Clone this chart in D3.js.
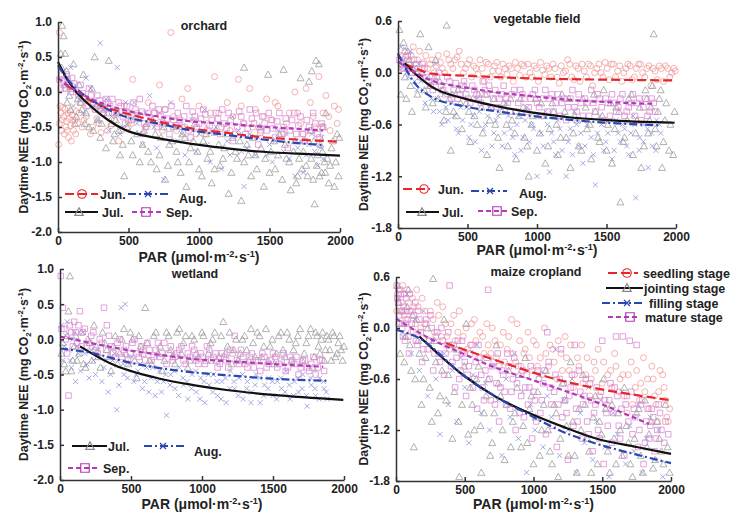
<!DOCTYPE html>
<html lang="en">
<head>
<meta charset="UTF-8">
<script src="https://d3js.org/d3.v7.min.js"></script>
<title>Daytime NEE vs PAR</title>
<style>
  body { margin: 0; background: #fff; }
  text { font-family: "Liberation Sans", Arial, sans-serif; font-weight: bold; fill: #222; }
  .axis text { font-size: 12px; fill: #222; }
  .axis path, .axis line { stroke: #333; stroke-width: 1.5; }
</style>
</head>
<body>
<svg width="731" height="512"></svg>
<script>
const parTicks = [0, 500, 1000, 1500, 2000];
const neeTicksA = [1.0, 0.5, 0.0, -0.5, -1.0, -1.5, -2.0];
const neeTicksB = [0.6, 0.0, -0.6, -1.2, -1.8];
const panelNames = ["orchard", "vegetable field", "wetland", "maize cropland"];
const monthNames = ["Jun.", "Jul.", "Aug.", "Sep."];
const stageNames = ["seedling stage", "jointing stage", "filling stage", "mature stage"];

// observed points, [PAR, NEE]
const orchardJun = [[5,-0.75],[10,-0.45],[15,-0.2],[20,-0.3],[25,-0.55],[30,-0.4],[40,-0.35],[45,-0.6],[50,-0.25],[55,-0.5],[60,-0.42],[70,-0.3],[75,-0.65],[80,-0.38],[90,-0.48],[100,-0.33],[110,-0.55],[120,-0.4],[130,-0.28],[140,-0.45],[10,0.85],[170,-0.5],[200,-0.35],[230,-0.6],[260,-0.25],[290,-0.45],[320,-0.3],[350,-0.55],[400,-0.4],[430,-0.7],[470,-0.2],[500,-0.5],[530,0.18],[560,-0.3],[600,-0.6],[640,-0.15],[700,-0.45],[720,0.1],[760,-0.25],[800,0.85],[840,-0.55],[880,-0.1],[920,0.05],[960,-0.4],[1000,-0.2],[1040,-0.6],[1080,-0.3],[1110,0.22],[1160,-0.5],[1200,-0.15],[1240,-0.35],[1280,0.18],[1320,-0.45],[1360,0.05],[1400,-0.25],[1440,-0.55],[1480,-0.1],[1520,-0.4],[1560,-0.2],[1600,-0.6],[1640,-0.3],[1680,0.0],[1720,-0.45],[1760,0.05],[1790,-0.15],[1820,-0.5],[1850,0.22],[1880,-0.3],[1900,-0.05],[1930,-0.55],[1960,-0.2],[1990,-0.25],
  [35,-0.22],[65,-0.55],[85,-0.28],[95,-0.7],[105,-0.4],[125,-0.6],[150,-0.3],[160,-0.15],[185,-0.4],[215,-0.2],[245,-0.5],[275,-0.38],[305,-0.58],[335,-0.25],[375,-0.48],[415,-0.32],[450,-0.55],[485,-0.28],[520,-0.45],[580,-0.35],[620,-0.5],[680,-0.3],[740,-0.55],[820,-0.35],[900,-0.5],[980,-0.6],[1060,-0.45],[1140,-0.3],[1220,-0.55],[1300,-0.2],[1380,-0.5],[1460,-0.35],[1540,-0.15],[1620,-0.45],[1700,-0.3],[1740,-0.6],[1810,-0.35],[1870,-0.5],[1920,-0.35],[1980,-0.45]];
const orchardJul = [[20,0.55],[30,0.95],[40,0.8],[50,0.55],[60,0.3],[70,0.15],[80,-0.05],[90,-0.25],[110,0.4],[130,-0.35],[150,0.1],[160,-0.15],[180,0.25],[200,-0.3],[220,-0.5],[240,0.05],[260,0.5],[280,-0.4],[300,-0.65],[320,-0.2],[340,-0.8],[360,0.45],[380,-0.45],[400,-0.6],[420,-0.3],[440,-0.9],[470,-1.2],[490,-0.5],[520,-0.7],[550,-0.35],[580,-1.0],[610,-0.55],[640,-0.85],[670,-0.4],[700,-1.1],[730,-0.65],[760,-1.25],[790,-0.75],[820,-0.5],[850,-1.0],[880,-0.6],[910,-1.35],[940,-0.8],[970,-0.45],[1000,-1.1],[1030,-0.7],[1060,-0.95],[1090,-1.3],[1120,-0.55],[1150,-1.05],[1180,-0.8],[1210,-1.45],[1240,-0.65],[1270,-0.95],[1300,-1.55],[1320,0.35],[1340,-0.75],[1370,-1.2],[1400,-0.9],[1430,-0.5],[1460,-1.35],[1490,0.25],[1510,-0.85],[1540,-1.1],[1570,-0.6],[1600,0.32],[1620,-0.95],[1650,-1.4],[1680,-0.7],[1700,-1.2],[1720,0.2],[1740,-0.85],[1760,-1.05],[1780,0.15],[1790,-0.55],[1800,0.3],[1810,-1.25],[1820,-1.6],[1830,0.45],[1840,-0.9],[1850,0.4],[1860,-0.75],[1870,-1.15],[1880,-0.5],[1890,-1.0],[1900,-0.3],[1920,-1.3],[1940,-0.8],[1960,-1.35],[1980,-0.6],[1995,-0.65],
  [25,0.35],[45,0.1],[65,-0.15],[100,0.05],[120,-0.45],[140,-0.1],[170,-0.25],[190,-0.45],[210,-0.1],[250,-0.55],[270,-0.2],[310,-0.45],[350,-0.3],[390,-0.7],[410,-0.4],[430,-0.55],[460,-0.75],[500,-0.4],[530,-0.9],[560,-0.6],[600,-0.75],[630,-0.45],[660,-1.0],[690,-0.6],[720,-0.9],[750,-0.5],[780,-1.05],[810,-0.7],[840,-0.85],[870,-1.15],[900,-0.65],[930,-1.0],[960,-0.7],[990,-0.85],[1020,-1.2],[1050,-0.6],[1080,-0.85],[1110,-1.1],[1140,-0.75],[1170,-0.95],[1200,-0.6],[1230,-1.15],[1260,-0.85],[1290,-0.7],[1320,-1.0],[1350,-0.9],[1380,-0.65],[1410,-1.1],[1440,-0.8],[1470,-0.95],[1500,-1.15],[1530,-0.7],[1560,-0.9],[1590,-1.25],[1610,-0.75],[1640,-1.0],[1670,-0.85],[1690,-1.3],[1710,-0.95],[1730,-1.1],[1750,-0.7],[1770,-1.2],[1795,-0.95],[1815,-0.7],[1835,-1.05],[1855,-1.2],[1875,-0.85],[1895,-1.15],[1910,-0.95],[1930,-1.05],[1950,-0.7],[1970,-1.0],[1990,-1.2]];
const orchardAug = [[40,0.3],[60,0.2],[90,0.35],[120,0.1],[150,-0.1],[200,0.2],[250,-0.2],[300,0.7],[340,-0.1],[380,-0.35],[420,0.35],[460,-0.5],[500,-0.3],[540,-0.15],[580,-0.6],[620,-0.3],[650,-0.05],[700,-0.8],[750,-1.25],[780,-0.45],[800,-0.15],[850,-0.7],[900,-0.9],[950,-0.4],[1000,-0.6],[1040,-0.25],[1080,-1.0],[1120,-0.5],[1160,-1.1],[1200,-0.7],[1240,-0.35],[1300,-0.85],[1320,-1.35],[1360,-0.6],[1400,-0.9],[1450,-0.5],[1500,-0.75],[1520,-1.0],[1560,-0.55],[1600,-0.85],[1640,-0.95],[1680,-1.2],[1720,-0.7],[1760,-0.9],[1800,-0.6],[1840,-1.05],[1860,-0.8],[1880,-0.95],
  [70,0.05],[110,-0.2],[180,-0.3],[230,0.05],[280,-0.4],[320,-0.25],[360,-0.55],[440,-0.6],[480,-0.15],[560,-0.45],[600,-0.75],[680,-0.5],[720,-0.3],[830,-0.5],[880,-0.6],[980,-0.85],[1060,-0.75],[1140,-0.45],[1220,-0.9],[1280,-0.55],[1340,-0.8],[1420,-0.65],[1480,-0.9],[1540,-0.7],[1620,-0.6],[1700,-0.8],[1740,-1.15],[1780,-0.75],[1820,-0.85],[1870,-0.65]];
const orchardSep = [[10,0.18],[20,0.05],[40,0.15],[60,0.25],[80,0.1],[100,0.2],[130,0.0],[160,0.1],[190,-0.1],[220,0.05],[250,-0.15],[280,-0.05],[310,-0.25],[340,-0.1],[370,-0.2],[400,-0.3],[430,-0.15],[460,-0.35],[490,-0.2],[520,-0.4],[550,-0.25],[580,-0.1],[610,-0.45],[640,-0.3],[670,-0.2],[700,-0.5],[730,-0.35],[760,-0.25],[790,-0.6],[820,-0.4],[850,-0.3],[880,-0.5],[910,-0.2],[940,-0.65],[970,-0.35],[1000,-0.45],[1030,-0.25],[1060,-0.55],[1090,-0.4],[1120,-0.3],[1150,-0.6],[1180,-0.45],[1210,-0.3],[1240,-0.7],[1270,-0.5],[1300,-0.35],[1330,-0.6],[1360,-0.25],[1390,-0.45],[1420,-0.75],[1450,-0.35],[1480,-0.55],[1510,-0.4],[1540,-0.65],[1570,-0.3],[1600,-0.5],[1630,-0.8],[1660,-0.4],[1690,-0.6],[1720,-0.35],[1750,-0.7],[1780,-0.5],[1810,-0.3],[1840,-0.6],[1870,-0.45],
  [30,0.25],[50,0.05],[70,0.18],[90,0.0],[115,0.12],[145,-0.05],[175,-0.02],[205,-0.2],[235,-0.05],[265,-0.25],[295,-0.12],[325,-0.3],[355,-0.15],[385,-0.1],[415,-0.28],[445,-0.2],[475,-0.45],[505,-0.3],[535,-0.15],[565,-0.38],[595,-0.28],[625,-0.5],[655,-0.4],[685,-0.3],[715,-0.25],[745,-0.45],[775,-0.38],[805,-0.2],[835,-0.48],[865,-0.4],[895,-0.35],[925,-0.55],[955,-0.28],[985,-0.5],[1015,-0.38],[1045,-0.32],[1075,-0.48],[1105,-0.58],[1135,-0.38],[1165,-0.25],[1195,-0.52],[1225,-0.4],[1255,-0.6],[1285,-0.28],[1315,-0.45],[1345,-0.52],[1375,-0.38],[1405,-0.3],[1435,-0.58],[1465,-0.45],[1495,-0.3],[1525,-0.52],[1555,-0.42],[1585,-0.6],[1615,-0.38],[1645,-0.55],[1675,-0.3],[1705,-0.48],[1735,-0.6],[1765,-0.4],[1795,-0.55],[1825,-0.45],[1855,-0.65],[1880,-0.5]];

const vegJun = [[20,0.2],[50,0.25],[80,0.1],[110,0.3],[140,0.15],[170,0.05],[200,0.2],[230,0.1],[260,0.0],[290,0.2],[320,0.05],[350,0.22],[380,0.1],[410,0.15],[440,0.25],[470,0.0],[500,0.1],[530,-0.05],[560,0.05],[590,0.15],[620,-0.1],[650,0.1],[680,0.02],[710,0.12],[740,-0.05],[770,0.05],[800,0.08],[830,-0.1],[860,0.05],[890,0.1],[920,-0.05],[950,0.0],[980,0.08],[1010,-0.1],[1040,0.03],[1070,0.08],[1100,-0.05],[1130,0.05],[1160,-0.12],[1190,0.0],[1220,0.15],[1250,-0.05],[1280,0.08],[1310,-0.1],[1340,0.02],[1370,0.1],[1400,-0.15],[1430,0.05],[1460,0.0],[1490,0.12],[1520,-0.08],[1550,0.1],[1580,0.02],[1610,-0.1],[1640,0.05],[1670,0.08],[1700,-0.05],[1730,0.1],[1760,0.0],[1790,0.05],[1820,-0.15],[1850,0.02],[1880,0.08],[1910,-0.1],[1940,0.05],[1970,0.0],[1995,0.02],
  [30,0.05],[65,0.15],[95,0.2],[125,0.0],[155,0.25],[185,0.12],[215,0.05],[245,0.15],[275,0.08],[305,0.12],[335,0.0],[365,0.15],[395,0.05],[425,0.18],[455,0.1],[485,0.05],[515,0.15],[545,0.08],[575,-0.02],[605,0.05],[635,0.12],[665,-0.05],[695,0.08],[725,0.02],[755,0.1],[785,-0.02],[815,0.05],[845,0.12],[875,-0.03],[905,0.08],[935,0.1],[965,-0.05],[995,0.05],[1025,0.12],[1055,-0.02],[1085,0.05],[1115,0.1],[1145,-0.05],[1175,0.08],[1205,0.02],[1235,0.1],[1265,-0.08],[1295,0.05],[1325,0.1],[1355,-0.05],[1385,0.08],[1415,0.0],[1445,0.1],[1475,-0.05],[1505,0.05],[1535,0.1],[1565,-0.05],[1595,0.08],[1625,0.0],[1655,0.1],[1685,-0.08],[1715,0.05],[1745,0.1],[1775,-0.05],[1805,0.08],[1835,0.05],[1865,-0.08],[1895,0.05],[1925,0.08],[1955,-0.05],[1985,0.05]];
const vegJul = [[10,0.5],[20,-0.25],[40,0.35],[60,-0.3],[80,0.15],[100,-0.45],[130,0.05],[160,0.45],[190,-0.2],[220,0.3],[250,-0.35],[270,0.15],[300,-0.1],[330,-0.55],[350,0.55],[370,-0.3],[380,-0.9],[400,-0.45],[430,-0.2],[460,-0.65],[490,-0.35],[520,-0.8],[550,-0.5],[580,-0.25],[610,-0.7],[640,-0.95],[670,-0.4],[700,-0.6],[730,-1.1],[760,-0.35],[790,-0.85],[820,-0.55],[850,-1.0],[880,-0.3],[910,-0.75],[940,-1.2],[970,-0.5],[1000,-0.9],[1030,-0.35],[1060,-1.05],[1090,-0.65],[1120,-0.45],[1150,-0.95],[1180,-0.25],[1210,-0.75],[1240,-1.1],[1270,-0.5],[1300,-0.85],[1330,-0.3],[1360,-0.65],[1390,-1.0],[1420,-0.45],[1450,-0.8],[1480,-0.2],[1510,-0.6],[1540,-1.05],[1570,-0.4],[1600,-1.5],[1630,-0.75],[1660,-0.3],[1690,-0.95],[1720,-0.55],[1750,-1.1],[1780,-0.2],[1800,-0.7],[1820,-0.4],[1840,0.45],[1860,-0.85],[1880,-0.3],[1900,-1.1],[1920,-0.55],[1950,-0.9],[1980,-0.95],
  [30,0.1],[50,-0.05],[70,0.25],[90,-0.15],[110,0.05],[140,-0.25],[170,0.0],[200,-0.4],[230,-0.15],[260,-0.05],[290,-0.3],[320,-0.2],[345,-0.45],[390,-0.25],[420,-0.5],[450,-0.35],[480,-0.15],[510,-0.45],[540,-0.3],[570,-0.6],[600,-0.4],[630,-0.25],[660,-0.55],[690,-0.3],[720,-0.75],[750,-0.45],[780,-0.6],[810,-0.3],[840,-0.7],[870,-0.5],[900,-0.4],[930,-0.85],[960,-0.6],[990,-0.3],[1020,-0.7],[1050,-0.5],[1080,-0.85],[1110,-0.35],[1140,-0.6],[1170,-0.75],[1200,-0.45],[1230,-0.3],[1260,-0.7],[1290,-0.55],[1320,-0.9],[1350,-0.4],[1380,-0.6],[1410,-0.25],[1440,-0.75],[1470,-0.5],[1500,-0.9],[1530,-0.35],[1560,-0.65],[1590,-0.45],[1620,-0.8],[1650,-0.55],[1680,-0.25],[1710,-0.7],[1740,-0.4],[1770,-0.85],[1790,-0.3],[1810,-0.55],[1830,-0.15],[1850,-0.65],[1870,-0.45],[1890,-0.2],[1910,-0.8],[1930,-0.35],[1960,-0.6],[1990,-0.45]];
const vegAug = [[20,0.3],[40,0.15],[60,0.0],[90,0.25],[120,-0.1],[150,0.1],[180,-0.2],[210,-0.05],[240,-0.3],[270,0.1],[300,-0.45],[330,-0.25],[360,-0.55],[390,-0.35],[420,-0.65],[450,-0.4],[480,-0.2],[510,-0.75],[540,-0.5],[570,-0.3],[600,-0.9],[630,-0.6],[660,-0.4],[690,-0.7],[720,-0.5],[750,-0.85],[780,-0.35],[810,-0.65],[840,-0.95],[870,-0.5],[900,-0.75],[930,-0.4],[960,-0.6],[1000,-1.2],[1030,-0.7],[1060,-0.45],[1090,-1.15],[1120,-0.8],[1150,-0.55],[1180,-0.9],[1210,-1.2],[1240,-0.65],[1270,-0.45],[1300,-0.85],[1330,-1.05],[1360,-0.6],[1390,-0.75],[1420,-1.3],[1450,-0.5],[1480,-0.9],[1510,-0.7],[1540,-1.0],[1570,-0.55],[1600,-0.8],[1630,-0.65],[1660,-0.95],[1690,-0.5],[1710,-1.45],[1740,-0.75],[1770,-0.6],[1800,-1.1],[1830,-0.85],[1860,-0.55],[1890,-0.7],
  [10,0.2],[30,0.05],[50,0.28],[75,-0.05],[105,0.1],[135,-0.2],[165,-0.1],[195,-0.35],[225,-0.15],[255,-0.45],[285,-0.3],[315,-0.6],[345,-0.4],[375,-0.25],[405,-0.5],[435,-0.7],[465,-0.55],[495,-0.4],[525,-0.6],[555,-0.8],[585,-0.45],[615,-0.65],[645,-0.5],[675,-0.85],[705,-0.55],[735,-0.4],[765,-0.7],[795,-0.5],[825,-0.75],[855,-0.6],[885,-0.9],[915,-0.55],[945,-0.8],[975,-0.65],[1010,-0.5],[1045,-0.85],[1075,-0.6],[1105,-0.7],[1135,-0.95],[1165,-0.65],[1195,-0.5],[1225,-0.8],[1255,-0.95],[1285,-0.6],[1315,-0.7],[1345,-0.85],[1375,-0.55],[1405,-0.95],[1435,-0.7],[1465,-0.6],[1495,-0.8],[1525,-0.55],[1555,-0.9],[1585,-0.7],[1615,-0.6],[1645,-0.85],[1675,-0.7],[1705,-0.6],[1735,-0.9],[1765,-0.8],[1795,-0.65],[1825,-0.7],[1855,-0.9],[1880,-0.6]];
const vegSep = [[10,0.15],[40,0.05],[70,0.2],[100,0.0],[130,0.1],[160,-0.05],[190,0.05],[220,-0.1],[250,-0.2],[280,-0.05],[310,-0.15],[340,-0.25],[370,-0.1],[400,-0.2],[430,-0.3],[460,-0.15],[490,-0.25],[520,-0.35],[550,-0.2],[580,-0.3],[610,-0.1],[640,-0.25],[670,-0.4],[700,-0.2],[730,-0.3],[760,-0.15],[790,-0.35],[820,-0.25],[850,-0.45],[880,-0.2],[910,-0.3],[940,-0.4],[970,-0.25],[1000,-0.35],[1030,-0.5],[1060,-0.2],[1090,-0.3],[1120,-0.45],[1150,-0.25],[1180,-0.35],[1210,-0.55],[1240,-0.3],[1270,-0.4],[1300,-0.25],[1330,-0.5],[1360,-0.35],[1390,-0.2],[1420,-0.45],[1450,-0.3],[1480,-0.55],[1510,-0.35],[1540,-0.25],[1570,-0.45],[1600,-0.3],[1630,-0.5],[1660,-0.4],[1690,-0.25],[1720,-0.35],[1750,-0.55],[1780,-0.3],[1810,-0.45],[1840,-0.35],
  [25,0.1],[55,0.18],[85,0.05],[115,0.15],[145,0.0],[175,0.1],[205,-0.05],[235,-0.15],[265,-0.1],[295,0.0],[325,-0.2],[355,-0.05],[385,-0.3],[415,-0.12],[445,-0.25],[475,-0.1],[505,-0.3],[535,-0.15],[565,-0.25],[595,-0.35],[625,-0.2],[655,-0.15],[685,-0.3],[715,-0.4],[745,-0.25],[775,-0.3],[805,-0.45],[835,-0.2],[865,-0.35],[895,-0.25],[925,-0.45],[955,-0.3],[985,-0.2],[1015,-0.4],[1045,-0.3],[1075,-0.45],[1105,-0.25],[1135,-0.35],[1165,-0.5],[1195,-0.3],[1225,-0.4],[1255,-0.2],[1285,-0.45],[1315,-0.35],[1345,-0.3],[1375,-0.5],[1405,-0.35],[1435,-0.25],[1465,-0.4],[1495,-0.3],[1525,-0.5],[1555,-0.35],[1585,-0.4],[1615,-0.25],[1645,-0.45],[1675,-0.35],[1705,-0.5],[1735,-0.3],[1765,-0.4],[1795,-0.5],[1825,-0.3],[1850,-0.45]];

const wetJul = [[10,-0.2],[30,-0.35],[50,0.05],[60,0.4],[70,0.9],[80,-0.45],[100,-0.1],[120,-0.3],[150,0.1],[180,-0.4],[210,-0.05],[240,0.2],[270,-0.25],[300,0.1],[330,-0.15],[360,-0.45],[390,0.05],[420,-0.2],[450,0.15],[480,-0.35],[510,0.0],[540,-0.55],[570,-0.1],[600,0.45],[630,-0.3],[660,0.05],[690,-0.2],[720,-0.45],[750,0.1],[780,-0.15],[810,-0.35],[840,0.15],[870,-0.05],[900,-0.4],[930,0.05],[960,-0.2],[1000,0.1],[1030,-0.3],[1060,-0.05],[1090,0.1],[1120,-0.25],[1150,0.25],[1180,-0.1],[1210,-0.35],[1240,0.0],[1270,-0.2],[1300,0.05],[1330,-0.3],[1360,-0.05],[1390,0.1],[1420,-0.25],[1450,0.15],[1480,-0.1],[1510,-0.35],[1540,0.05],[1570,-0.15],[1600,0.1],[1630,-0.3],[1660,-0.05],[1690,0.15],[1720,-0.2],[1750,0.05],[1780,-0.4],[1800,0.1],[1820,-0.1],[1840,0.0],[1860,-0.3],[1880,0.05],[1900,-0.15],[1920,0.1],[1940,-0.25],[1960,-0.05],[1980,-0.15],[2000,-0.1],
  [20,-0.05],[40,-0.45],[90,-0.3],[110,0.05],[135,-0.2],[165,-0.35],[195,0.0],[225,-0.3],[255,-0.1],[285,-0.4],[315,-0.05],[345,-0.25],[375,-0.1],[405,-0.35],[435,0.0],[465,-0.2],[495,0.1],[525,-0.3],[555,0.05],[585,-0.2],[615,-0.05],[645,-0.35],[675,0.1],[705,-0.1],[735,-0.3],[765,0.05],[795,-0.25],[825,0.1],[855,-0.2],[885,0.05],[915,-0.3],[945,0.0],[975,-0.25],[1010,0.05],[1045,-0.2],[1075,0.0],[1105,-0.3],[1135,0.05],[1165,-0.2],[1195,0.1],[1225,-0.15],[1255,-0.3],[1285,0.0],[1315,-0.15],[1345,0.15],[1375,-0.25],[1405,0.05],[1435,-0.1],[1465,-0.3],[1495,0.0],[1525,-0.2],[1555,0.1],[1585,-0.25],[1615,0.0],[1645,-0.15],[1675,0.05],[1705,-0.3],[1735,-0.05],[1765,0.15],[1790,-0.25],[1810,0.05],[1830,-0.2],[1850,0.1],[1870,-0.15],[1890,0.0],[1910,-0.3],[1930,0.05],[1950,-0.2],[1970,0.05],[1990,-0.3]];
const wetAug = [[10,0.2],[30,-0.1],[50,0.25],[70,-0.3],[90,0.0],[110,-0.6],[130,-0.2],[160,0.1],[190,-0.35],[220,-0.15],[250,-0.5],[280,-0.25],[310,-0.4],[340,-0.75],[370,-0.3],[400,-1.0],[430,0.45],[450,-0.5],[460,0.5],[490,-0.35],[520,-0.6],[550,-0.45],[580,-0.7],[610,-0.4],[640,-0.55],[670,-0.8],[700,-0.45],[730,-0.6],[750,-1.08],[780,-0.5],[810,-0.7],[840,-0.4],[870,-0.65],[900,-0.85],[930,-0.5],[960,-0.75],[990,-0.55],[1020,-0.9],[1050,-0.65],[1080,-0.5],[1110,-0.8],[1140,-0.6],[1170,-0.9],[1200,-0.45],[1230,-0.7],[1260,-0.55],[1290,-0.85],[1320,-0.6],[1350,-0.75],[1380,-0.5],[1410,-0.9],[1440,-0.65],[1470,-0.55],[1500,-0.8],[1530,-0.6],[1560,-0.7],[1590,-0.45],[1620,-0.85],[1650,-0.6],[1680,-0.75],[1710,-0.5],[1740,-0.95],[1770,-0.65],[1800,-0.8],[1830,-0.55],[1860,-0.7],[1880,-0.85],
  [20,-0.3],[40,0.05],[60,-0.15],[80,-0.4],[100,0.1],[120,-0.1],[145,-0.45],[175,-0.2],[205,-0.55],[235,-0.3],[265,-0.15],[295,-0.6],[325,-0.3],[355,-0.5],[385,-0.2],[415,-0.65],[445,-0.35],[475,-0.55],[505,-0.25],[535,-0.5],[565,-0.35],[595,-0.6],[625,-0.75],[655,-0.4],[685,-0.6],[715,-0.75],[745,-0.5],[775,-0.65],[805,-0.45],[835,-0.8],[865,-0.55],[895,-0.6],[925,-0.7],[955,-0.45],[985,-0.85],[1015,-0.6],[1045,-0.5],[1075,-0.75],[1105,-0.6],[1135,-0.85],[1165,-0.55],[1195,-0.7],[1225,-0.6],[1255,-0.8],[1285,-0.5],[1315,-0.7],[1345,-0.9],[1375,-0.65],[1405,-0.55],[1435,-0.8],[1465,-0.7],[1495,-0.6],[1525,-0.85],[1555,-0.55],[1585,-0.75],[1615,-0.65],[1645,-0.8],[1675,-0.55],[1705,-0.7],[1735,-0.8],[1765,-0.55],[1795,-0.7],[1825,-0.85],[1855,-0.6],[1875,-0.75]];
const wetSep = [[5,0.9],[20,0.45],[30,0.15],[50,-0.2],[60,-0.8],[80,0.1],[100,0.25],[120,-0.05],[140,0.4],[160,0.1],[190,-0.1],[220,0.05],[250,-0.15],[280,0.0],[310,0.45],[330,0.2],[360,-0.1],[390,-0.25],[420,0.0],[450,-0.15],[480,-0.3],[510,-0.05],[540,-0.2],[570,-0.1],[600,-0.3],[630,-0.15],[660,-0.25],[690,-0.05],[720,-0.2],[750,-0.35],[780,-0.1],[810,-0.25],[840,-0.15],[870,-0.3],[900,-0.2],[930,-0.1],[960,-0.3],[990,-0.2],[1020,-0.35],[1050,-0.15],[1080,-0.25],[1110,-0.4],[1140,-0.2],[1170,-0.3],[1200,-0.15],[1230,0.05],[1260,-0.35],[1290,-0.25],[1320,-0.4],[1350,-0.2],[1380,-0.3],[1410,-0.45],[1440,-0.25],[1470,-0.35],[1500,-0.2],[1530,-0.4],[1560,-0.3],[1590,-0.45],[1620,-0.25],[1650,-0.35],[1680,-0.5],[1710,-0.3],[1740,-0.4],[1770,-0.35],[1800,-0.5],[1830,-0.3],[1860,-0.45],
  [10,0.15],[40,0.0],[70,0.2],[90,-0.1],[110,0.1],[130,0.2],[150,-0.1],[175,0.15],[205,-0.05],[235,0.1],[265,-0.2],[295,-0.05],[325,-0.15],[345,0.05],[375,-0.2],[405,-0.05],[435,-0.25],[465,-0.1],[495,-0.2],[525,0.0],[555,-0.25],[585,-0.15],[615,-0.05],[645,-0.3],[675,-0.15],[705,-0.25],[735,-0.05],[765,-0.2],[795,-0.3],[825,-0.2],[855,-0.1],[885,-0.35],[915,-0.25],[945,-0.15],[975,-0.35],[1005,-0.25],[1035,-0.1],[1065,-0.3],[1095,-0.2],[1125,-0.35],[1155,-0.25],[1185,-0.4],[1215,-0.2],[1245,-0.3],[1275,-0.15],[1305,-0.35],[1335,-0.25],[1365,-0.4],[1395,-0.3],[1425,-0.2],[1455,-0.4],[1485,-0.3],[1515,-0.25],[1545,-0.35],[1575,-0.2],[1605,-0.4],[1635,-0.3],[1665,-0.25],[1695,-0.4],[1725,-0.3],[1755,-0.45],[1785,-0.25],[1815,-0.4],[1845,-0.3]];

const maizeSeedling = [[10,0.4],[30,0.2],[50,0.5],[70,0.1],[90,0.3],[110,-0.05],[130,0.25],[150,0.45],[180,0.0],[210,0.2],[240,-0.15],[270,0.1],[300,0.3],[330,-0.1],[360,0.05],[390,-0.25],[420,0.15],[450,-0.05],[480,-0.3],[510,0.0],[540,-0.2],[570,0.1],[600,-0.35],[630,-0.1],[660,0.05],[690,-0.3],[720,-0.15],[750,-0.45],[780,-0.05],[810,-0.25],[840,0.1],[870,-0.4],[900,-0.15],[930,-0.3],[960,-0.05],[990,-0.5],[1020,-0.2],[1050,-0.35],[1080,0.0],[1110,-0.45],[1140,-0.25],[1170,-0.6],[1200,-0.3],[1230,-0.1],[1260,-0.5],[1290,-0.7],[1320,-0.35],[1350,-0.2],[1380,-0.55],[1410,-0.8],[1440,-0.4],[1470,-0.25],[1500,-0.65],[1530,-0.9],[1560,-0.5],[1590,-0.3],[1620,-0.75],[1650,-0.55],[1680,-1.0],[1710,-0.4],[1740,-0.7],[1770,-0.85],[1800,-0.35],[1830,-0.6],[1860,-0.45],[1880,-0.8],[1900,-1.1],[1920,-0.5],[1950,-0.7],[1970,-1.05],[1990,-0.95],
  [5,0.2],[20,0.45],[40,0.3],[60,0.15],[80,0.45],[100,0.2],[120,0.35],[140,0.05],[160,0.25],[190,0.35],[220,0.05],[250,0.2],[280,-0.05],[310,0.15],[340,0.25],[370,-0.1],[400,0.05],[430,-0.15],[460,0.2],[490,-0.1],[520,-0.25],[550,0.05],[580,-0.15],[610,-0.05],[640,-0.3],[670,-0.2],[700,0.0],[730,-0.35],[760,-0.2],[790,-0.4],[820,-0.1],[850,-0.3],[880,0.05],[910,-0.45],[940,-0.25],[970,-0.35],[1000,-0.15],[1030,-0.45],[1060,-0.55],[1090,-0.3],[1120,-0.2],[1150,-0.4],[1180,-0.15],[1210,-0.5],[1240,-0.35],[1270,-0.2],[1300,-0.55],[1330,-0.45],[1360,-0.65],[1390,-0.35],[1420,-0.6],[1450,-0.5],[1480,-0.8],[1510,-0.4],[1540,-0.55],[1570,-0.7],[1600,-0.45],[1630,-0.6],[1660,-0.8],[1690,-0.55],[1720,-0.9],[1750,-0.5],[1780,-0.65],[1810,-0.75],[1840,-0.95],[1870,-0.6],[1890,-0.9],[1910,-0.75],[1940,-0.55],[1960,-0.85],[1980,-1.1]];
const maizeJointing = [[10,0.5],[30,-0.3],[50,0.2],[70,-0.1],[90,0.45],[110,-0.5],[130,-1.4],[150,0.1],[170,-0.3],[200,-0.6],[230,0.0],[260,-1.1],[270,0.58],[290,-0.4],[320,-0.8],[350,0.1],[380,-0.55],[410,-1.3],[440,-0.25],[460,-1.75],[480,-0.9],[510,0.05],[540,-0.7],[570,-1.2],[600,-0.45],[620,-1.7],[640,-1.0],[670,-0.6],[700,-1.35],[730,-0.2],[760,-0.8],[790,-1.55],[820,-0.5],[850,-1.1],[880,-0.7],[910,-1.4],[940,-0.35],[970,-0.95],[1000,-1.6],[1030,-0.75],[1060,-1.2],[1090,-0.5],[1120,-1.45],[1150,-0.9],[1180,-1.75],[1210,-0.65],[1240,-1.15],[1270,-0.4],[1300,-1.5],[1330,-0.95],[1360,-0.55],[1390,-1.3],[1420,-1.7],[1450,-0.8],[1480,-1.1],[1510,-0.6],[1540,-1.45],[1570,-0.9],[1600,-1.6],[1630,-1.2],[1660,-0.7],[1690,-1.35],[1720,-1.75],[1750,-1.0],[1780,-1.5],[1810,-0.85],[1840,-1.25],[1870,-1.65],[1900,-1.1],[1930,-1.45],[1960,-0.9],[1990,-1.7],
  [20,0.3],[40,0.05],[60,-0.4],[80,0.25],[100,-0.2],[120,0.15],[140,-0.6],[160,-0.15],[185,-0.9],[215,-0.35],[245,-0.7],[280,-0.15],[305,-1.0],[335,-0.5],[365,-0.85],[395,-0.2],[425,-0.75],[455,-1.1],[495,-0.45],[525,-1.25],[555,-0.9],[585,-0.6],[615,-1.15],[655,-0.8],[685,-1.5],[715,-1.0],[745,-0.65],[775,-1.2],[805,-0.9],[835,-1.4],[865,-1.0],[895,-0.55],[925,-1.15],[955,-1.35],[985,-0.8],[1015,-1.05],[1045,-1.5],[1075,-0.9],[1105,-1.2],[1135,-1.6],[1165,-1.0],[1195,-1.3],[1225,-0.85],[1255,-1.5],[1285,-1.1],[1315,-1.7],[1345,-1.2],[1375,-0.9],[1405,-1.45],[1435,-1.05],[1465,-1.6],[1495,-1.25],[1525,-0.95],[1555,-1.7],[1585,-1.3],[1615,-1.0],[1645,-1.5],[1675,-1.15],[1705,-1.6],[1735,-1.3],[1765,-0.95],[1795,-1.7],[1825,-1.4],[1855,-1.1],[1885,-1.55],[1915,-1.3],[1945,-1.6],[1975,-1.4]];
const maizeFilling = [[20,0.35],[50,-0.1],[80,0.4],[110,-0.3],[140,0.1],[170,-0.5],[200,0.2],[230,-0.8],[260,-0.15],[290,-0.6],[320,-1.25],[350,-0.3],[380,-0.9],[410,-0.5],[440,-1.1],[470,-0.35],[500,-0.7],[530,-1.35],[560,-0.55],[590,-0.2],[620,-1.0],[650,-0.65],[680,-1.2],[710,-0.45],[740,-0.85],[770,-1.5],[800,-0.6],[830,-1.05],[860,-0.3],[890,-1.3],[920,-0.75],[950,-1.7],[980,-0.9],[1010,-1.2],[1040,-0.55],[1070,-1.4],[1100,-0.8],[1130,-1.05],[1160,-0.25],[1190,-1.5],[1220,-0.85],[1250,-1.2],[1280,-0.6],[1310,-1.7],[1340,-1.0],[1370,-1.35],[1400,-0.7],[1430,-1.55],[1460,-1.1],[1490,-0.85],[1520,-1.4],[1550,-1.75],[1580,-1.0],[1610,-1.25],[1640,-0.75],[1670,-1.6],[1700,-1.15],[1730,-1.45],[1760,-0.9],[1790,-1.7],[1820,-1.3],[1850,-1.05],[1880,-1.55],[1910,-1.2],[1940,-1.75]];
const maizeMature = [[5,0.5],[15,0.3],[25,0.15],[35,0.4],[45,0.0],[55,0.25],[65,-0.15],[75,0.35],[85,0.1],[95,-0.3],[110,0.2],[125,-0.05],[140,0.3],[155,-0.2],[170,0.1],[190,-0.4],[210,0.05],[230,-0.25],[250,0.15],[270,-0.5],[290,-0.1],[310,-0.3],[330,0.0],[350,-0.55],[370,-0.2],[390,0.5],[410,-0.4],[430,-0.7],[450,-0.15],[470,-0.5],[490,-0.3],[510,-0.8],[530,-0.45],[550,-0.2],[570,-0.6],[590,-0.95],[610,-0.35],[630,-0.7],[650,-0.5],[670,0.45],[690,-0.85],[710,-0.4],[730,-0.65],[750,-1.1],[770,-0.5],[790,-0.75],[810,-0.3],[830,-0.95],[850,-0.6],[870,-1.2],[890,-0.45],[910,-0.8],[930,-1.05],[950,-0.55],[970,-0.7],[990,-1.3],[1010,-0.85],[1030,-0.5],[1050,-1.0],[1070,-0.65],[1090,-1.25],[1100,-0.05],[1110,-0.4],[1130,-0.9],[1150,-0.75],[1170,-1.4],[1190,-0.6],[1200,-0.25],[1210,-1.05],[1230,-0.85],[1250,-1.55],[1270,-0.7],[1290,-1.15],[1300,-0.2],[1310,-0.95],[1330,-0.5],[1350,-1.3],[1370,-0.8],[1390,-1.1],[1410,-0.65],[1430,-1.45],[1450,-0.9],[1470,-1.2],[1490,-0.75],[1500,-0.15],[1510,-1.6],[1530,-1.0],[1550,-0.85],[1570,-1.35],[1590,-0.7],[1600,-0.1],[1620,-1.15],[1640,-0.95],[1650,-0.1],[1660,-1.5],[1680,-0.8],[1700,-0.15],[1720,-1.25],[1740,-1.05],[1750,-0.2],[1760,-1.4],[1780,-0.9],[1800,-1.6],[1820,-1.1],[1840,-1.3],[1860,-0.95],[1880,-1.45],[1900,-1.2],[1920,-1.0],[1950,-1.35],
  [10,0.35],[20,0.05],[30,0.45],[40,0.2],[50,-0.1],[60,0.4],[70,0.05],[80,0.2],[90,-0.1],[100,0.4],[115,0.05],[130,0.15],[145,-0.15],[160,0.2],[180,-0.05],[200,-0.25],[220,0.1],[240,-0.15],[260,0.0],[280,-0.3],[300,-0.05],[320,-0.4],[340,-0.15],[360,-0.3],[380,-0.05],[400,-0.45],[420,-0.2],[440,-0.35],[460,-0.6],[480,-0.15],[500,-0.4],[520,-0.55],[540,-0.3],[560,-0.7],[580,-0.4],[600,-0.2],[620,-0.55],[640,-0.85],[660,-0.35],[680,-0.6],[700,-0.45],[720,-0.9],[740,-0.3],[760,-0.7],[780,-0.55],[800,-0.9],[820,-0.45],[840,-0.75],[860,-0.35],[880,-0.65],[900,-1.0],[920,-0.5],[940,-0.7],[960,-0.9],[980,-0.45],[1000,-0.75],[1020,-1.1],[1040,-0.6],[1060,-0.85],[1080,-0.5],[1120,-0.7],[1140,-1.15],[1160,-0.55],[1180,-0.9],[1220,-0.65],[1240,-1.0],[1260,-0.8],[1280,-0.55],[1320,-1.1],[1340,-0.75],[1360,-0.9],[1380,-0.6],[1400,-1.25],[1420,-0.85],[1440,-1.0],[1460,-0.7],[1480,-1.3],[1520,-0.85],[1540,-1.15],[1560,-0.65],[1580,-1.0],[1610,-0.8],[1630,-1.3],[1670,-0.9],[1690,-1.1],[1710,-0.75],[1730,-0.95],[1770,-1.2],[1790,-0.85],[1810,-1.35],[1830,-0.95],[1850,-1.15],[1870,-1.05],[1890,-1.3],[1910,-0.9],[1930,-1.2],[1960,-1.1],[1980,-1.25]];

// fitted light-response curves at sample PAR values
const orchardJunFit = [[47,0.12],[150,-0.03],[300,-0.19],[473,-0.3],[709,-0.42],[945,-0.52],[1182,-0.58],[1418,-0.64],[1700,-0.68],[2000,-0.71]];
const orchardJulFit = [[0,0.43],[60,0.2],[118,0.03],[236,-0.21],[355,-0.4],[473,-0.54],[709,-0.66],[945,-0.74],[1182,-0.8],[1418,-0.85],[1700,-0.88],[2000,-0.91]];
const orchardAugFit = [[0,0.38],[80,0.15],[236,-0.11],[473,-0.35],[709,-0.45],[945,-0.55],[1182,-0.61],[1418,-0.67],[1650,-0.72],[1880,-0.76]];
const orchardSepFit = [[0,0.2],[100,0.05],[236,-0.1],[473,-0.26],[709,-0.35],[945,-0.42],[1182,-0.45],[1418,-0.49],[1650,-0.52],[1880,-0.55]];
const vegJunFit = [[50,0.1],[144,0.04],[240,-0.01],[500,-0.035],[960,-0.065],[1500,-0.08],[2000,-0.09]];
const vegJulFit = [[48,0.11],[130,-0.02],[240,-0.16],[480,-0.3],[719,-0.39],[960,-0.46],[1199,-0.51],[1500,-0.55],[1990,-0.58]];
const vegAugFit = [[0,0.22],[120,-0.12],[240,-0.28],[480,-0.39],[719,-0.45],[960,-0.5],[1199,-0.54],[1500,-0.58],[1894,-0.61]];
const vegSepFit = [[0,0.13],[240,-0.09],[480,-0.17],[719,-0.23],[960,-0.27],[1199,-0.31],[1500,-0.34],[1847,-0.36]];
const wetJulFit = [[141,-0.1],[352,-0.34],[704,-0.56],[939,-0.65],[1174,-0.72],[1500,-0.79],[1995,-0.86]];
const wetAugFit = [[0,-0.13],[235,-0.2],[469,-0.32],[704,-0.41],[939,-0.47],[1174,-0.51],[1500,-0.56],[1878,-0.59]];
const wetSepFit = [[0,0.04],[235,-0.06],[469,-0.15],[704,-0.22],[939,-0.28],[1174,-0.31],[1408,-0.34],[1854,-0.39]];
const maizeSeedlingFit = [[364,-0.18],[727,-0.38],[1091,-0.57],[1455,-0.71],[1750,-0.79],[2000,-0.85]];
const maizeJointingFit = [[170,-0.1],[485,-0.55],[727,-0.81],[967,-1.0],[1212,-1.16],[1455,-1.3],[1750,-1.4],[2000,-1.48]];
const maizeFillingFit = [[0,-0.02],[170,-0.12],[485,-0.55],[727,-0.81],[967,-1.02],[1212,-1.22],[1455,-1.36],[1750,-1.49],[2000,-1.59]];
const maizeMatureFit = [[0,0.11],[242,-0.12],[485,-0.3],[727,-0.47],[970,-0.6],[1212,-0.73],[1500,-0.9],[1840,-1.13]];

// look of the four series types: circle / triangle / cross / square
const kinds = [
  {pt: "#f29a9a", line: "#e8262a", dash: "9,4", size: 6},
  {pt: "#9a9a9a", line: "#111", dash: null, size: 7},
  {pt: "#8a90da", line: "#2a46b0", dash: "8,3,2,3", size: 5},
  {pt: "#da86d2", line: "#b23ab4", dash: "5,3", size: 5.5}
];

const panels = [
  {x0: 58, x1: 340, y0: 22, y1: 232, dom: [-2, 1], ticks: neeTicksA, title: [204, 30], ylab: 28, xlab: 262,
   series: [[0, orchardJun, orchardJunFit], [1, orchardJul, orchardJulFit], [2, orchardAug, orchardAugFit], [3, orchardSep, orchardSepFit]],
   legend: [[0, monthNames[0], 65, 98, 82, 194, 100, 199], [2, monthNames[2], 128, 168, 148, 194, 179, 203],
            [1, monthNames[1], 65, 98, 79, 212, 102, 217], [3, monthNames[3], 132, 162, 146, 212, 166, 217]]},
  {x0: 398, x1: 676, y0: 21, y1: 228, dom: [-1.8, 0.6], ticks: neeTicksB, title: [537, 23], ylab: 368, xlab: 255,
   series: [[0, vegJun, vegJunFit], [1, vegJul, vegJulFit], [2, vegAug, vegAugFit], [3, vegSep, vegSepFit]],
   legend: [[0, monthNames[0], 403, 430, 424, 189, 438, 194], [2, monthNames[2], 471, 507, 490, 191, 519, 198],
            [1, monthNames[1], 406, 439, 422, 212, 442, 217], [3, monthNames[3], 478, 507, 497, 211, 511, 216]]},
  {x0: 60, x1: 344, y0: 269, y1: 480, dom: [-2, 1], ticks: neeTicksA, title: [195, 278], ylab: 28, xlab: 509,
   series: [[1, wetJul, wetJulFit], [2, wetAug, wetAugFit], [3, wetSep, wetSepFit]],
   legend: [[1, monthNames[1], 72, 107, 90, 446, 108, 451], [2, monthNames[2], 144, 185, 163, 446, 194, 456],
            [3, monthNames[3], 68, 98, 85, 468, 103, 473]]},
  {x0: 396, x1: 671, y0: 277, y1: 481, dom: [-1.8, 0.6], ticks: neeTicksB, title: [536, 276], ylab: 368, xlab: 509,
   series: [[0, maizeSeedling, maizeSeedlingFit], [1, maizeJointing, maizeJointingFit], [2, maizeFilling, maizeFillingFit], [3, maizeMature, maizeMatureFit]],
   legend: [[0, stageNames[0], 608, 638, 627, 273, 643, 278], [1, stageNames[1], 606, 643, 627, 288, 644, 293],
            [2, stageNames[2], 602, 642, 627, 303, 649, 308], [3, stageNames[3], 608, 638, 630, 317, 645, 322]]}
];

const svg = d3.select("svg");

function symPath(k, s) {
  const h = s / 2;
  if (k === 0) return `M${h},0A${h},${h} 0 1,1 ${-h},0A${h},${h} 0 1,1 ${h},0Z`;
  if (k === 1) return `M0,${-h}L${h},${h * 0.8}L${-h},${h * 0.8}Z`;
  if (k === 2) return `M${-h},${-h}L${h},${h}M${-h},${h}L${h},${-h}`;
  return `M${-h},${-h}H${h}V${h}H${-h}Z`;
}

// text with sub/superscript pieces: [string, 0 normal | -1 sup | 1 sub]
function richText(sel, parts, size) {
  let cur = 0;
  parts.forEach(([t, s]) => {
    const target = s === 0 ? 0 : (s < 0 ? -0.38 * size : 0.25 * size);
    sel.append("tspan").attr("dy", target - cur)
      .attr("font-size", s === 0 ? size : size * 0.65).text(t);
    cur = target;
  });
}

const yLabelParts = [["Daytime NEE (mg CO", 0], ["2", 1], ["·m", 0], ["-2", -1], ["·s", 0], ["-1", -1], [")", 0]];
const xLabelParts = [["PAR (μmol·m", 0], ["-2", -1], ["·s", 0], ["-1", -1], [")", 0]];

panels.forEach((p, i) => {
  const x = d3.scaleLinear().domain([0, 2000]).range([p.x0, p.x1]);
  const y = d3.scaleLinear().domain(p.dom).range([p.y1, p.y0]);
  const g = svg.append("g");

  // points
  p.series.forEach(([k, pts]) => {
    g.append("g").selectAll("path").data(pts).enter().append("path")
      .attr("d", symPath(k, kinds[k].size))
      .attr("transform", d => `translate(${x(d[0])},${y(d[1])})`)
      .attr("fill", "none").attr("stroke", kinds[k].pt)
      .attr("stroke-width", 0.9).attr("opacity", 0.85);
  });

  // fitted curves
  const line = d3.line().x(d => x(d[0])).y(d => y(d[1])).curve(d3.curveMonotoneX);
  p.series.forEach(([k, , fit]) => {
    g.append("path").datum(fit).attr("d", line)
      .attr("fill", "none").attr("stroke", kinds[k].line)
      .attr("stroke-width", 2.2).attr("stroke-dasharray", kinds[k].dash);
  });

  // axes, ticks point inward
  g.append("g").attr("class", "axis").attr("transform", `translate(0,${p.y1})`)
    .call(d3.axisBottom(x).tickValues(parTicks).tickFormat(d3.format("d"))
      .tickSizeInner(-4).tickSizeOuter(0).tickPadding(4));
  g.append("g").attr("class", "axis").attr("transform", `translate(${p.x0},0)`)
    .call(d3.axisLeft(y).tickValues(p.ticks).tickFormat(d => d.toFixed(1))
      .tickSizeInner(-4).tickSizeOuter(0).tickPadding(6));

  g.append("text").attr("x", p.title[0]).attr("y", p.title[1])
    .attr("text-anchor", "middle").attr("font-size", 12.5).text(panelNames[i]);

  const yl = g.append("text").attr("text-anchor", "middle")
    .attr("transform", `translate(${p.ylab},${(p.y0 + p.y1) / 2}) rotate(-90)`);
  richText(yl, yLabelParts, 12.3);

  const xl = g.append("text").attr("text-anchor", "middle")
    .attr("x", (p.x0 + p.x1) / 2).attr("y", p.xlab);
  richText(xl, xLabelParts, 14);

  // legend
  p.legend.forEach(([k, label, lx1, lx2, sx, ly, tx, ty]) => {
    const c = kinds[k];
    g.append("line").attr("x1", lx1).attr("x2", lx2).attr("y1", ly).attr("y2", ly)
      .attr("stroke", c.line).attr("stroke-width", 2).attr("stroke-dasharray", c.dash);
    g.append("path").attr("d", symPath(k, k === 2 ? 6 : 8.5))
      .attr("transform", `translate(${sx},${ly})`)
      .attr("fill", "none").attr("stroke", k === 1 ? "#888" : c.line).attr("stroke-width", 1.2);
    g.append("text").attr("x", tx).attr("y", ty).attr("font-size", 12.5).text(label);
  });
});
</script>
</body>
</html>
